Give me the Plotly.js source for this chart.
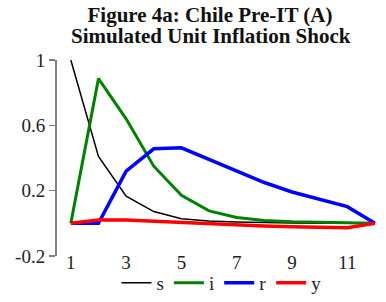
<!DOCTYPE html>
<html>
<head>
<meta charset="utf-8">
<script src="https://cdn.plot.ly/plotly-3.0.1.min.js"></script>
<style>html,body{margin:0;padding:0;background:#fff;}#chart{width:386px;height:302px;}</style>
</head>
<body>
<div id="chart"></div>
<script>
var periods = [1, 2, 3, 4, 5, 6, 7, 8, 9, 10, 11, 12];
var seriesS = [1.0, 0.41, 0.166, 0.072, 0.028, 0.014, 0.008, 0.004, 0.002, 0.001, 0.0, 0.0];
var seriesI = [0.0, 0.886, 0.64, 0.35, 0.172, 0.076, 0.036, 0.018, 0.01, 0.006, 0.003, 0.0];
var seriesR = [0.0, 0.0, 0.32, 0.456, 0.462, 0.392, 0.32, 0.25, 0.192, 0.146, 0.102, 0.0];
var seriesY = [0.0, 0.02, 0.021, 0.013, 0.005, -0.003, -0.011, -0.017, -0.021, -0.024, -0.027, 0.0];
var xTickVals = [1, 3, 5, 7, 9, 11];
var xMinorTicks = [2.5, 4.5, 6.5, 8.5, 10.5];
var yTickVals = [-0.2, 0.2, 0.6, 1];
var yTickText = ['-0.2', '0.2', '0.6', '1'];
var names = ['s', 'i', 'r', 'y'];

var serif = 'Liberation Serif';
var gray = '#808080';

var traces = [
  {x: periods, y: seriesS, name: names[0], mode: 'lines', line: {color: '#000000', width: 1.5}},
  {x: periods, y: seriesI, name: names[1], mode: 'lines', line: {color: '#008000', width: 3}},
  {x: periods, y: seriesR, name: names[2], mode: 'lines', line: {color: '#0000ff', width: 3.5}},
  {x: periods, y: seriesY, name: names[3], mode: 'lines', line: {color: '#ff0000', width: 3.5}}
];

var layout = {
  width: 386, height: 302,
  margin: {l: 57, r: 0, t: 60, b: 42, pad: 0},
  paper_bgcolor: '#ffffff', plot_bgcolor: '#ffffff',
  font: {family: serif, size: 19, color: '#222222'},
  title: {
    text: '<b>Figure 4a: Chile Pre-IT (A)</b>',
    font: {family: serif, size: 21, color: '#111111'},
    x: 210 / 386, xanchor: 'center', xref: 'container',
    y: 1 - 15 / 302, yanchor: 'middle', yref: 'container'
  },
  annotations: [{
    text: '<b>Simulated Unit Inflation Shock</b>',
    font: {family: serif, size: 21, color: '#111111'},
    xref: 'paper', yref: 'paper', x: (211 - 57) / 329, y: 1 + (60 - 35) / 200,
    xanchor: 'center', yanchor: 'middle', showarrow: false
  }],
  xaxis: {
    range: [0.5, 12.4], tickmode: 'array', tickvals: xTickVals,
    ticks: '', showline: false, showgrid: false, zeroline: false,
    ticklabelstandoff: -7, tickfont: {family: serif, size: 19, color: '#222222'}
  },
  xaxis2: {
    overlaying: 'x', anchor: 'free', position: 0.2 / 1.2,
    range: [0.5, 12.4], tickmode: 'array', tickvals: xMinorTicks,
    ticks: 'outside', ticklen: 5, tickwidth: 1.5, tickcolor: gray,
    showline: true, linecolor: gray, linewidth: 2,
    showticklabels: false, showgrid: false, zeroline: false
  },
  yaxis: {
    range: [-0.2, 1], tickmode: 'array', tickvals: yTickVals, ticktext: yTickText,
    ticks: 'outside', ticklen: 6, tickwidth: 1.5, tickcolor: gray,
    showline: true, linecolor: gray, linewidth: 2,
    showgrid: false, zeroline: false,
    tickfont: {family: serif, size: 19, color: '#222222'}
  },
  showlegend: true,
  legend: {
    orientation: 'h', x: 0.5, xanchor: 'center', y: -0.14, yanchor: 'middle',
    font: {family: serif, size: 19, color: '#222222'},
    bgcolor: 'rgba(0,0,0,0)', itemwidth: 30, tracegroupgap: 0
  }
};

Plotly.newPlot('chart', traces, layout, {displayModeBar: false, staticPlot: true});
</script>
</body>
</html>
